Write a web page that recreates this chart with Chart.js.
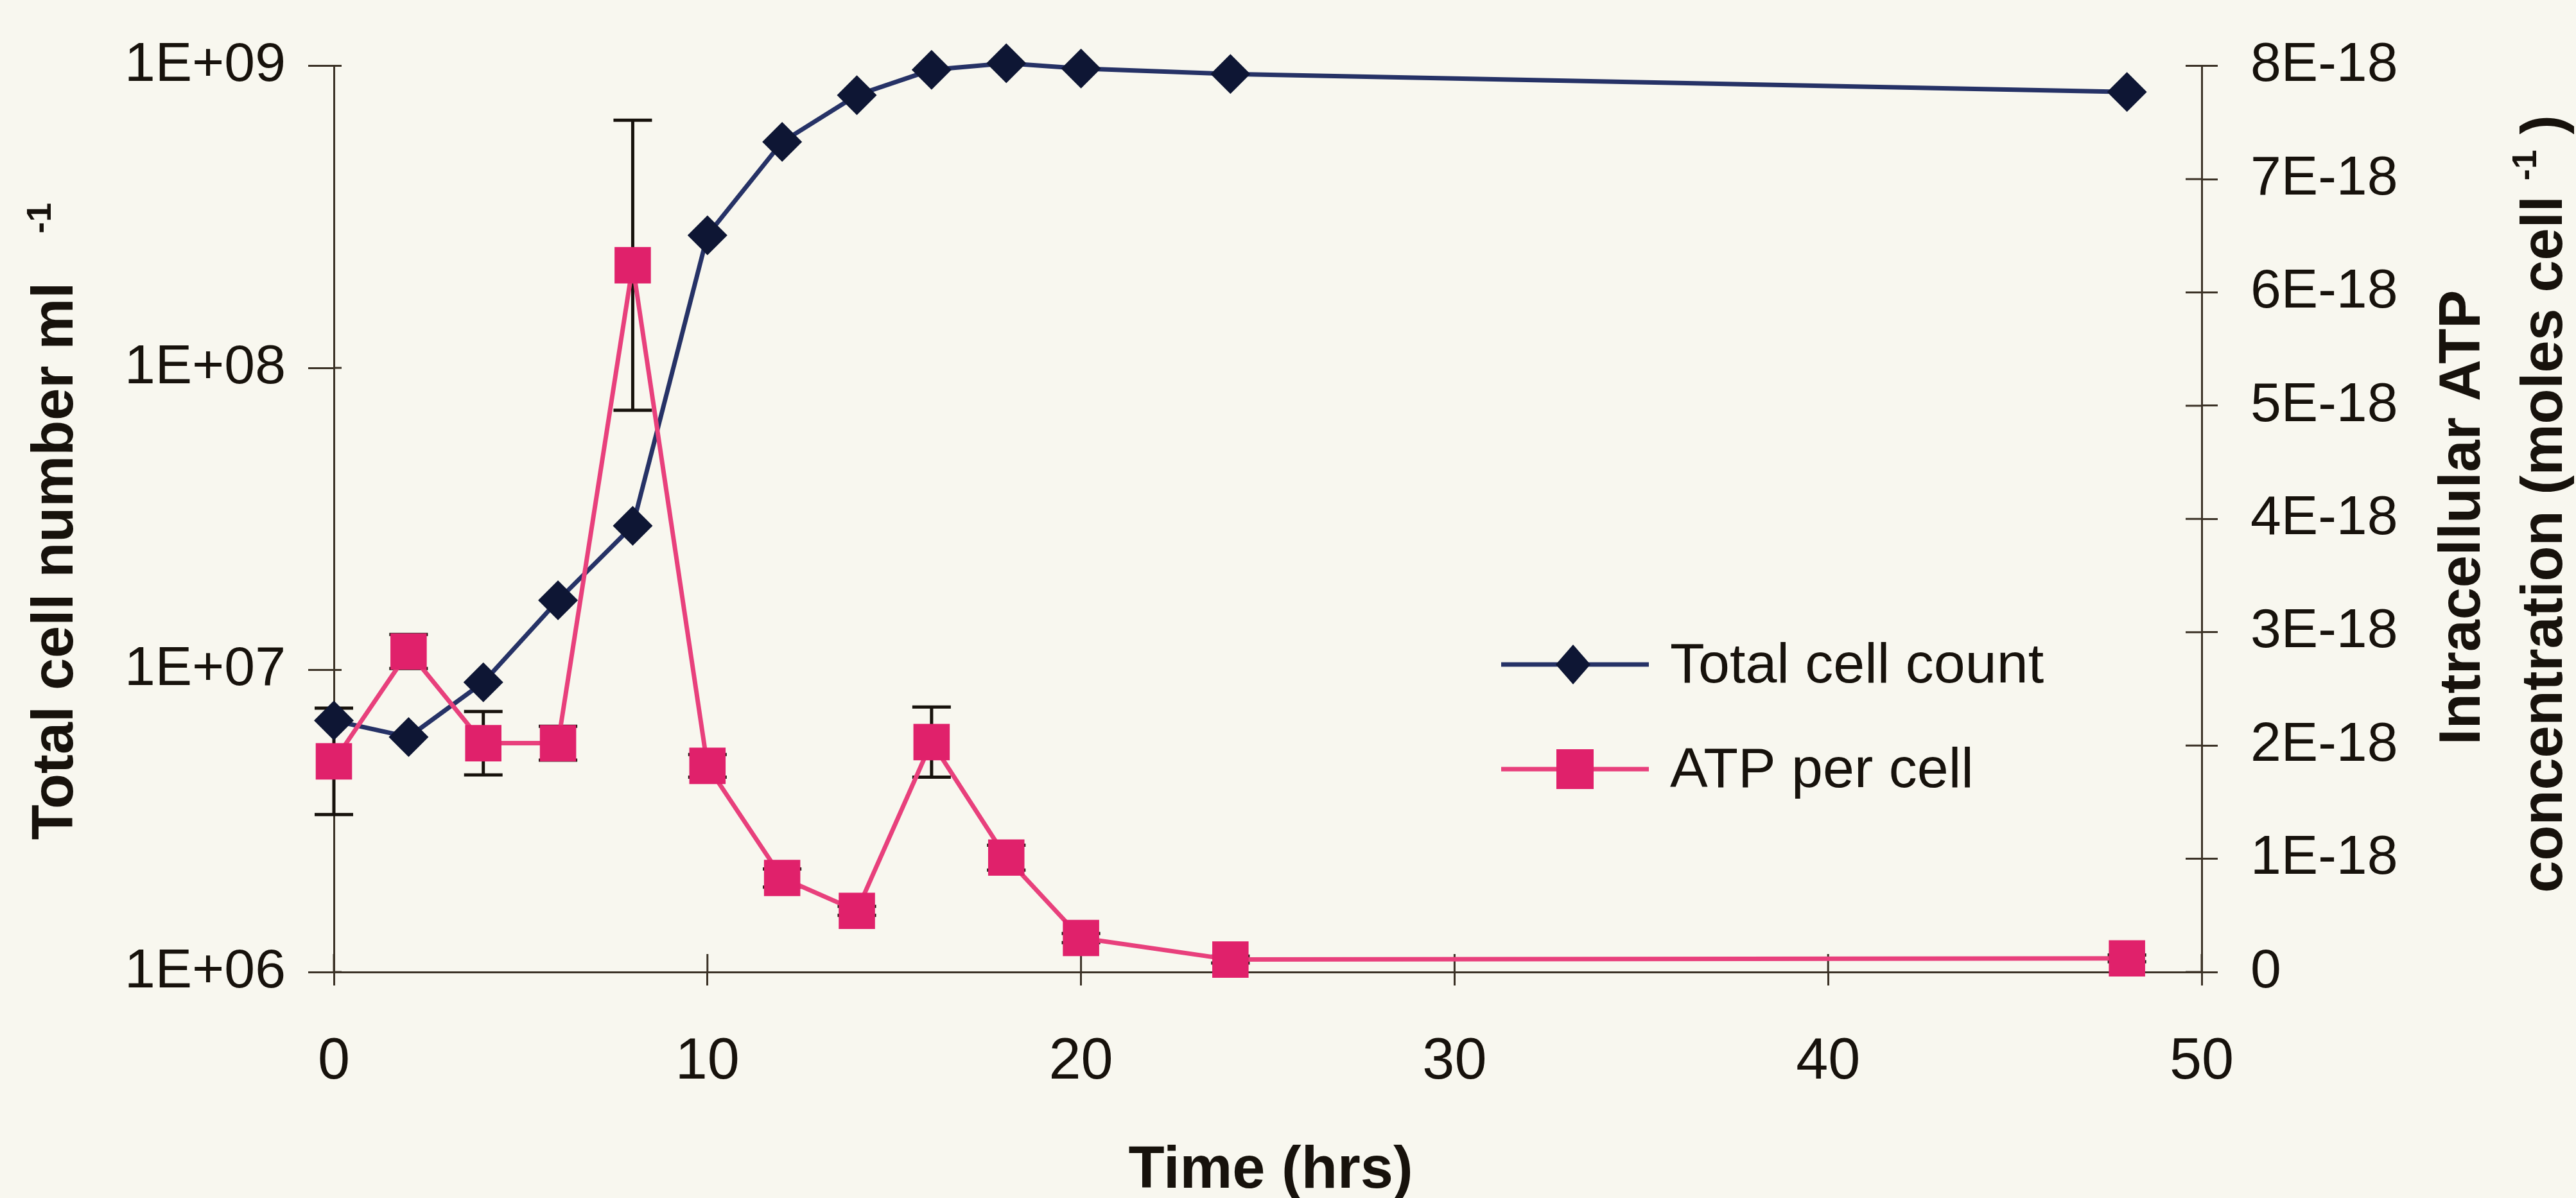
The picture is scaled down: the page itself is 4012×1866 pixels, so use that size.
<!DOCTYPE html>
<html>
<head>
<meta charset="utf-8">
<title>Total cell count and ATP per cell</title>
<script src="https://cdn.jsdelivr.net/npm/chart.js@4.4.0/dist/chart.umd.min.js"></script>
<style>
  html, body { margin: 0; padding: 0; background: #f8f7ef; }
  #wrap { width: 4012px; height: 1866px; }
</style>
</head>
<body>
<div id="wrap"><canvas id="myChart" width="4012" height="1866"></canvas></div>
<script>
// ---------- DATA ----------
const hours          = [0, 2, 4, 6, 8, 10, 12, 14, 16, 18, 20, 24, 48];
const totalCellCount = [6.8e6, 6.0e6, 9.1e6, 1.7e7, 3.0e7, 2.75e8, 5.6e8, 8.0e8, 9.7e8, 1.02e9, 9.8e8, 9.4e8, 8.2e8];
const atpPerCell     = [1.86e-18, 2.83e-18, 2.02e-18, 2.02e-18, 6.24e-18, 1.82e-18, 0.83e-18, 0.54e-18, 2.03e-18, 1.01e-18, 0.30e-18, 0.11e-18, 0.12e-18];
const atpError       = [0.47e-18, 0.15e-18, 0.28e-18, 0.15e-18, 1.28e-18, 0.10e-18, 0.08e-18, 0.04e-18, 0.31e-18, 0.11e-18, 0.04e-18, 0.03e-18, 0.03e-18];

const xTicks          = [0, 10, 20, 30, 40, 50];
const leftTicks       = [1e6, 1e7, 1e8, 1e9];
const leftTickLabels  = ['1E+06', '1E+07', '1E+08', '1E+09'];
const rightTicks      = [0, 1e-18, 2e-18, 3e-18, 4e-18, 5e-18, 6e-18, 7e-18, 8e-18];
const rightTickLabels = ['0', '1E-18', '2E-18', '3E-18', '4E-18', '5E-18', '6E-18', '7E-18', '8E-18'];

const seriesNames = ['Total cell count', 'ATP per cell'];

// ---------- Estilo ----------
const FONT      = "'Liberation Sans', Arial, sans-serif";
const BG        = '#f8f7ef';
const AXIS      = '#3b3226';
const TEXT      = '#17120c';
const NAVY_LINE = '#263266';
const NAVY_PT   = '#0e1634';
const PINK_LINE = '#e8407c';
const PINK_PT   = '#e0216b';

// ---------- Plugins ----------
const bgPlugin = {
  id: 'bg',
  beforeDraw(chart) {
    const c = chart.ctx;
    c.save();
    c.fillStyle = BG;
    c.fillRect(0, 0, chart.width, chart.height);
    c.restore();
  }
};

// barras de erro do ATP (eixo da direita)
const errorBars = {
  id: 'errorBars',
  beforeDatasetsDraw(chart) {
    const c = chart.ctx, x = chart.scales.x, y1 = chart.scales.y1;
    c.save();
    c.strokeStyle = TEXT;
    c.lineWidth = 5;
    hours.forEach((h, i) => {
      const px = x.getPixelForValue(h);
      const top = y1.getPixelForValue(atpPerCell[i] + atpError[i]);
      const bot = y1.getPixelForValue(atpPerCell[i] - atpError[i]);
      c.beginPath();
      c.moveTo(px, top); c.lineTo(px, bot);
      c.moveTo(px - 30, top); c.lineTo(px + 30, top);
      c.moveTo(px - 30, bot); c.lineTo(px + 30, bot);
      c.stroke();
    });
    c.restore();
  }
};

// parte interna das marcas (as marcas cruzam o eixo)
const innerTicks = {
  id: 'innerTicks',
  beforeDatasetsDraw(chart) {
    const c = chart.ctx, a = chart.chartArea, s = chart.scales;
    c.save();
    c.strokeStyle = AXIS;
    c.lineWidth = 3;
    c.beginPath();
    leftTicks.forEach(v => { const py = s.y.getPixelForValue(v); c.moveTo(a.left, py); c.lineTo(a.left + 12, py); });
    rightTicks.forEach(v => { const py = s.y1.getPixelForValue(v); c.moveTo(a.right - 25, py); c.lineTo(a.right, py); });
    xTicks.forEach(v => { const px = s.x.getPixelForValue(v); c.moveTo(px, a.bottom - 28); c.lineTo(px, a.bottom); });
    c.stroke();
    c.restore();
  }
};

// texto vertical com expoente
function drawVertical(c, parts, baseX, centerY) {
  c.save();
  c.fillStyle = TEXT;
  c.textBaseline = 'alphabetic';
  c.textAlign = 'left';
  let total = 0;
  parts.forEach(p => { c.font = p.font; p.w = c.measureText(p.text).width; total += p.w + (p.gap || 0); });
  c.translate(baseX, centerY);
  c.rotate(-Math.PI / 2);
  let tx = -total / 2;
  parts.forEach(p => {
    c.font = p.font;
    c.fillText(p.text, tx, -(p.raise || 0));
    tx += p.w + (p.gap || 0);
  });
  c.restore();
}

const titles = {
  id: 'titles',
  afterDraw(chart) {
    const c = chart.ctx;
    const big = `bold 90px ${FONT}`, sup = `bold 54px ${FONT}`;
    drawVertical(c, [
      { text: 'Total cell number ml', font: big, gap: 76 },
      { text: '-1', font: sup, raise: 34 }
    ], 113, 812);
    drawVertical(c, [{ text: 'Intracellular ATP', font: big }], 3862, 806);
    drawVertical(c, [
      { text: 'concentration (moles cell', font: big, gap: 24 },
      { text: '-1', font: sup, raise: 40, gap: 24 },
      { text: ')', font: big }
    ], 3990, 785);

    c.save();
    c.fillStyle = TEXT;
    c.font = `bold 92px ${FONT}`;
    c.textAlign = 'center';
    c.textBaseline = 'alphabetic';
    c.fillText('Time (hrs)', 1979, 1850);
    c.restore();
  }
};

// legenda dentro da área do gráfico
const legendBox = {
  id: 'legendBox',
  afterDraw(chart) {
    const c = chart.ctx;
    const rows = [
      { y: 1035, line: NAVY_LINE, pt: NAVY_PT, shape: 'diamond' },
      { y: 1198, line: PINK_LINE, pt: PINK_PT, shape: 'square' }
    ];
    c.save();
    rows.forEach((r, i) => {
      c.strokeStyle = r.line;
      c.lineWidth = 7;
      c.beginPath(); c.moveTo(2338, r.y); c.lineTo(2568, r.y); c.stroke();
      c.fillStyle = r.pt;
      c.beginPath();
      if (r.shape === 'diamond') {
        c.moveTo(2450, r.y - 31); c.lineTo(2477, r.y); c.lineTo(2450, r.y + 31); c.lineTo(2423, r.y);
      } else {
        c.rect(2424, r.y - 31, 58, 62);
      }
      c.closePath(); c.fill();
      c.fillStyle = TEXT;
      c.font = `88px ${FONT}`;
      c.textBaseline = 'middle';
      c.fillText(seriesNames[i], 2601, r.y + 4);
    });
    c.restore();
  }
};

// ---------- Gráfico ----------
const ctx = document.getElementById('myChart').getContext('2d');
const tickFont = { family: FONT, size: 86 };

new Chart(ctx, {
  type: 'line',
  data: {
    datasets: [
      {
        label: seriesNames[1],
        data: hours.map((h, i) => ({ x: h, y: atpPerCell[i] })),
        yAxisID: 'y1',
        order: 0,
        borderColor: PINK_LINE,
        borderWidth: 7,
        pointStyle: 'rect',
        pointRadius: 40,
        pointBackgroundColor: PINK_PT,
        pointBorderColor: PINK_PT,
        pointBorderWidth: 0,
        tension: 0,
        clip: false
      },
      {
        label: seriesNames[0],
        data: hours.map((h, i) => ({ x: h, y: totalCellCount[i] })),
        yAxisID: 'y',
        order: 1,
        borderColor: NAVY_LINE,
        borderWidth: 7,
        pointStyle: 'rectRot',
        pointRadius: 31,
        pointBackgroundColor: NAVY_PT,
        pointBorderColor: NAVY_PT,
        pointBorderWidth: 0,
        tension: 0,
        clip: false
      }
    ]
  },
  options: {
    responsive: false,
    animation: false,
    events: [],
    layout: { padding: { top: 98, left: 0, right: 0, bottom: 0 } },
    plugins: { legend: { display: false }, tooltip: { enabled: false } },
    scales: {
      x: {
        type: 'linear',
        min: 0, max: 50,
        afterBuildTicks: s => { s.ticks = xTicks.map(v => ({ value: v })); },
        afterFit: s => { s.height = 1866 - 1514; },
        border: { display: true, color: AXIS, width: 3 },
        grid: { drawOnChartArea: false, drawTicks: true, tickLength: 21, color: AXIS, lineWidth: 3 },
        ticks: { font: { family: FONT, size: 90 }, color: TEXT, padding: 66, maxRotation: 0, callback: v => String(v) }
      },
      y: {
        type: 'logarithmic',
        position: 'left',
        min: 1e6, max: 1e9,
        afterBuildTicks: s => { s.ticks = leftTicks.map(v => ({ value: v })); },
        afterFit: s => { s.width = 520; },
        border: { display: true, color: AXIS, width: 3 },
        grid: { drawOnChartArea: false, drawTicks: true, tickLength: 40, color: AXIS, lineWidth: 3 },
        ticks: { font: tickFont, color: TEXT, padding: 35, callback: (v, i) => leftTickLabels[i] }
      },
      y1: {
        type: 'linear',
        position: 'right',
        min: 0, max: 8e-18,
        afterBuildTicks: s => { s.ticks = rightTicks.map(v => ({ value: v })); },
        afterFit: s => { s.width = 4012 - 3429; },
        border: { display: true, color: AXIS, width: 3 },
        grid: { drawOnChartArea: false, drawTicks: true, tickLength: 25, color: AXIS, lineWidth: 3 },
        ticks: { font: tickFont, color: TEXT, padding: 51, callback: (v, i) => rightTickLabels[i] }
      }
    }
  },
  plugins: [bgPlugin, errorBars, innerTicks, titles, legendBox]
});
</script>
</body>
</html>
